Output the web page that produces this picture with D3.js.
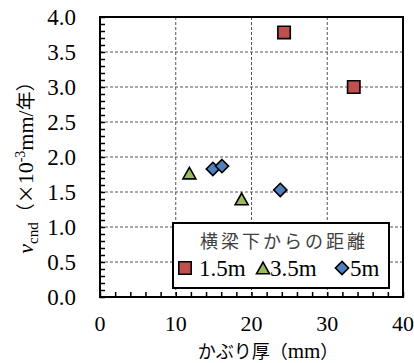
<!DOCTYPE html>
<html><head><meta charset="utf-8">
<script src="https://cdn.jsdelivr.net/npm/d3@7"></script>
<style>body{margin:0;background:#fff}svg{display:block}</style>
</head><body>
<script>
const seriesNames = ["1.5m", "3.5m", "5m"];
const seriesColors = ["#c0504d", "#9bbb59", "#4f81bd"];
const seriesShapes = ["square", "triangle", "diamond"];
const x15 = [24.3, 33.5];
const y15 = [3.78, 3.0];
const x35 = [11.8, 18.7];
const y35 = [1.77, 1.40];
const x5 = [14.9, 16.1, 23.8];
const y5 = [1.83, 1.87, 1.53];
const xTicks = [0, 10, 20, 30, 40];
const yTicks = [0, 0.5, 1, 1.5, 2, 2.5, 3, 3.5, 4];
const legendTitle = "横梁下からの距離";

const W = 414, H = 363;
const L = 100, R = 403, T = 17, B = 297;
const svg = d3.select("body").append("svg").attr("width", W).attr("height", H);
const x = d3.scaleLinear().domain([0, 40]).range([L, R]);
const y = d3.scaleLinear().domain([0, 4]).range([B, T]);
const serif = "'Liberation Serif','Times New Roman',serif";
const cjk = "'Noto Sans CJK JP','Liberation Serif',serif";

// grid
const g = svg.append("g");
g.selectAll(".gx").data(xTicks.slice(1, -1)).join("line")
  .attr("x1", d => x(d)).attr("x2", d => x(d)).attr("y1", T).attr("y2", B)
  .attr("stroke", "#555").attr("stroke-width", 1).attr("stroke-dasharray", "3,2");
g.selectAll(".gy").data(yTicks.slice(1, -1)).join("line")
  .attr("y1", d => y(d)).attr("y2", d => y(d)).attr("x1", L).attr("x2", R)
  .attr("stroke", "#555").attr("stroke-width", 1).attr("stroke-dasharray", "3,2");

// frame
svg.append("rect").attr("x", L).attr("y", T).attr("width", R - L).attr("height", B - T)
  .attr("fill", "none").attr("stroke", "#000").attr("stroke-width", 2);

// axes with inward minor ticks
const xAxis = d3.axisBottom(x).tickValues(d3.range(0, 41, 2)).tickSize(-5).tickFormat("");
svg.append("g").attr("transform", `translate(0,${B})`).call(xAxis)
  .call(a => a.select(".domain").remove())
  .call(a => a.selectAll("line").attr("stroke", "#000").attr("stroke-width", 1.5));
const yAxis = d3.axisLeft(y).tickValues(d3.range(0, 41).map(d => d / 10)).tickSize(-5).tickFormat("");
svg.append("g").attr("transform", `translate(${L},0)`).call(yAxis)
  .call(a => a.select(".domain").remove())
  .call(a => a.selectAll("line").attr("stroke", "#000").attr("stroke-width", 1.5));

// tick labels
svg.selectAll(".yl").data(yTicks).join("text")
  .attr("x", 76).attr("y", d => y(d)).attr("dy", "0.35em").attr("text-anchor", "end")
  .attr("font-family", serif).attr("font-size", 23).text(d => d.toFixed(1));
svg.selectAll(".xl").data(xTicks).join("text")
  .attr("x", d => x(d)).attr("y", 331).attr("text-anchor", "middle")
  .attr("font-family", serif).attr("font-size", 22).text(d => d);

// x title
const xt = svg.append("text").attr("x", 268).attr("y", 358).attr("text-anchor", "middle")
  .attr("font-size", 18);
xt.append("tspan").attr("font-family", cjk).text("かぶり厚（");
xt.append("tspan").attr("font-family", serif).attr("font-size", 21).text("mm");
xt.append("tspan").attr("font-family", cjk).text("）");

// y title
const yt = svg.append("text").attr("text-anchor", "middle").attr("font-family", serif).attr("font-size", 22);
yt.append("tspan").attr("font-style", "italic").text("v");
yt.append("tspan").attr("font-size", 15).attr("dy", 5).text("cnd");
yt.append("tspan").attr("dy", -5).attr("font-family", cjk).attr("font-size", 19).text("（×");
yt.append("tspan").text("10");
yt.append("tspan").attr("font-size", 14).attr("dy", -8).text("-3");
yt.append("tspan").attr("dy", 8).text("mm/");
yt.append("tspan").attr("font-family", cjk).attr("font-size", 19).text("年）");
const ylen = yt.node().getComputedTextLength();
const k = Math.min(1, 196 / ylen);
yt.attr("transform", `translate(33,163) rotate(-90) scale(${k})`);

// symbols (bounding-box centred, like the original markers)
function symPath(shape) {
  if (shape === "square") return "M-6.2,-6.2H6.2V6.2H-6.2Z";
  if (shape === "triangle") return "M0,-5.8L6.5,5.8H-6.5Z";
  return "M0,-6.6L6.6,0L0,6.6L-6.6,0Z";
}
function drawSym(sel, shape, color) {
  sel.attr("d", symPath(shape)).attr("fill", color)
    .attr("stroke", "#000").attr("stroke-width", 1.6).attr("stroke-linejoin", "miter");
}
const data = [
  {xs: x15, ys: y15, i: 0},
  {xs: x35, ys: y35, i: 1},
  {xs: x5, ys: y5, i: 2}
];
data.forEach(s => {
  const pts = s.xs.map((v, j) => [v, s.ys[j]]);
  svg.append("g").selectAll("path").data(pts).join("path")
    .attr("transform", d => `translate(${x(d[0])},${y(d[1])})`)
    .call(p => drawSym(p, seriesShapes[s.i], seriesColors[s.i]));
});

// legend
const lg = svg.append("g");
lg.append("rect").attr("x", 173).attr("y", 223).attr("width", 216).attr("height", 65)
  .attr("fill", "#fff").attr("stroke", "#000").attr("stroke-width", 2);
lg.append("text").attr("x", 284).attr("y", 248).attr("text-anchor", "middle")
  .attr("font-family", cjk).attr("font-size", 18).attr("letter-spacing", 3)
  .attr("fill", "#404040").text(legendTitle);
const itemX = [[185, 199], [263, 270], [342, 350]];
seriesNames.forEach((n, i) => {
  lg.append("path").attr("transform", `translate(${itemX[i][0]},${268})`)
    .call(p => drawSym(p, seriesShapes[i], seriesColors[i]));
  lg.append("text").attr("x", itemX[i][1]).attr("y", 276)
    .attr("font-family", serif).attr("font-size", 23).text(n);
});
</script>
</body></html>
